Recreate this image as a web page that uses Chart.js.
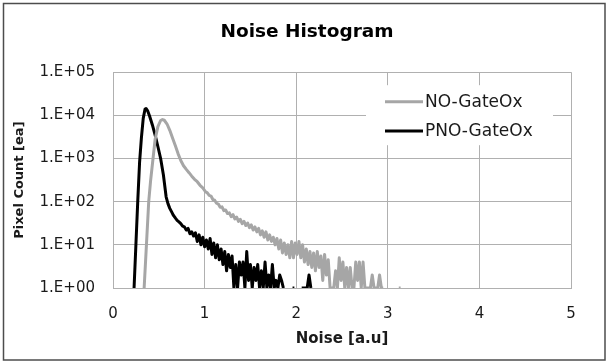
<!DOCTYPE html>
<html><head><meta charset="utf-8">
<script src="https://cdn.jsdelivr.net/npm/chart.js@4.4.1/dist/chart.umd.min.js"></script>
<style>html,body{margin:0;padding:0;background:#fff;}#wrap{width:609px;height:363px;}</style>
</head><body><div id="wrap"><canvas id="c" width="609" height="363"></canvas></div>
<script>
const chartTitle = 'Noise Histogram';
const xAxisTitle = 'Noise [a.u]';
const yAxisTitle = 'Pixel Count [ea]';
const seriesNames = ['NO-GateOx', 'PNO-GateOx'];
const seriesColors = ['#a6a6a6', '#000000'];
const xTickValues = [0, 1, 2, 3, 4, 5];
const yTickValues = [1, 10, 100, 1000, 10000, 100000];
const yTickLabels = ['1.E+00', '1.E+01', '1.E+02', '1.E+03', '1.E+04', '1.E+05'];

// NO-GateOx (gray)
const noX = [0.34,0.365,0.39,0.41,0.437,0.46,0.49,0.52,0.54,0.56,0.59,0.62,0.65,0.68,0.71,0.74,0.77,0.80,0.83,0.86,0.89,0.92,0.95,0.98,1.01,1.03,1.05,1.07,1.09,1.11,1.13,1.15,1.17,1.19,1.21,1.23,1.25,1.27,1.29,1.31,1.33,1.35,1.37,1.39,1.41,1.43,1.45,1.47,1.49,1.51,1.53,1.55,1.57,1.59,1.61,1.63,1.65,1.67,1.69,1.71,1.73,1.75,1.77,1.79,1.81,1.83,1.85,1.87,1.89,1.91,1.93,1.95,1.97,1.99,2.01,2.03,2.05,2.07,2.09,2.11,2.13,2.15,2.17,2.19,2.21,2.23,2.25,2.27,2.29,2.31,2.33,2.35,2.37,2.39,2.41,2.43,2.45,2.47,2.49,2.51,2.53,2.55,2.57,2.59,2.61,2.63,2.65,2.67,2.69,2.71,2.73,2.75,2.77,2.79,2.81,2.83,2.85,2.87,2.89,2.91,2.93,2.95,2.97,3.12,3.14];
const noY = [1,10,100,300,1000,2800,5500,7600,8000,7700,6300,4500,3000,2000,1300,900,680,560,470,390,330,290,240,210,170,160,140,135,112,108,92,88,74,76,62,64,53,55,45,50,40,44,35,39,31,35,28,32,25,29,22,26,20,24,17,21,15,20,13,17,12,15,10,14,8,13,6.5,11,6,10,5,12,5,11,6,12,5,10,4,8,3.5,7,3,6.5,2.5,7,3,5.5,1.5,6,2,4.5,1,1,1,2.5,1,5,1.5,4,1,3,1,3,1,1,4,1.5,4,1,4,1,1,1,1,2,1,1,1,2,1,1,null,1,1];

// PNO-GateOx (black)
const pnoX = [0.23,0.25,0.27,0.29,0.31,0.33,0.35,0.36,0.38,0.40,0.43,0.46,0.49,0.52,0.55,0.58,0.60,0.62,0.64,0.66,0.68,0.70,0.72,0.74,0.76,0.78,0.80,0.82,0.84,0.86,0.88,0.90,0.92,0.94,0.96,0.98,1.00,1.02,1.04,1.06,1.08,1.10,1.12,1.14,1.16,1.18,1.20,1.22,1.24,1.26,1.28,1.30,1.32,1.34,1.36,1.38,1.40,1.42,1.44,1.46,1.48,1.50,1.52,1.54,1.56,1.58,1.60,1.62,1.64,1.66,1.68,1.70,1.72,1.74,1.76,1.78,1.80,1.82,1.84,1.86,1.88,1.96,1.98,2.01,2.06,2.08,2.10,2.12,2.14,2.16,2.18,2.40,2.42];
const pnoY = [1,10,100,800,3000,8500,14000,14500,12500,9500,6000,3500,1900,1000,420,130,90,70,58,48,42,37,34,31,27,26,22,24,18,20,16,19,12,17,10,15,9,13,8,14,6,11,5,10,4.5,8,3.5,7,2.5,6,3,5.5,1,3.5,1,4,2,4,1,7,1.5,3.5,1,3,1.5,3.5,1,2.5,1,4,1,2,1,3.5,1,1.5,1,2,1.5,1,null,1,1,null,1,1,1,1,2,1,null,1,1];

const toPoints = (xs, ys) => xs.map((x, i) => ({ x: x, y: ys[i] }));

Chart.defaults.font.family = 'DejaVu Sans';
Chart.defaults.color = '#1a1a1a';

const framePlugin = {
  id: 'frame',
  beforeDraw(chart) {
    const ctx = chart.ctx;
    ctx.save();
    ctx.fillStyle = '#ffffff';
    ctx.fillRect(0, 0, chart.width, chart.height);
    ctx.restore();
  },
  beforeDatasetsDraw(chart) {
    const ctx = chart.ctx, a = chart.chartArea;
    ctx.save();
    ctx.fillStyle = '#ffffff';
    ctx.fillRect(a.right - 205, a.top + 13, 187, 60);
    ctx.restore();
  },
  afterDraw(chart) {
    const ctx = chart.ctx, a = chart.chartArea;
    ctx.save();
    chart.data.datasets.forEach((ds, i) => {
      const y = a.top + 29.5 + i * 29.3;
      const x0 = a.right - 186;
      ctx.strokeStyle = ds.borderColor;
      ctx.lineWidth = 3;
      ctx.beginPath();
      ctx.moveTo(x0, y);
      ctx.lineTo(x0 + 38, y);
      ctx.stroke();
      ctx.fillStyle = '#1a1a1a';
      ctx.font = '17px "DejaVu Sans"';
      ctx.textBaseline = 'middle';
      ctx.textAlign = 'left';
      ctx.fillText(ds.label, x0 + 40, y + 1);
    });
    ctx.strokeStyle = '#4d4d4d';
    ctx.lineWidth = 1.5;
    ctx.strokeRect(3.5, 3.5, 601.5, 356.5);
    ctx.restore();
  }
};

new Chart(document.getElementById('c'), {
  type: 'line',
  data: {
    datasets: [
      { label: seriesNames[0], data: toPoints(noX, noY), borderColor: seriesColors[0], backgroundColor: seriesColors[0], borderWidth: 3, pointRadius: 0, tension: 0, clip: 0, borderJoinStyle: 'round' },
      { label: seriesNames[1], data: toPoints(pnoX, pnoY), borderColor: seriesColors[1], backgroundColor: seriesColors[1], borderWidth: 3, pointRadius: 0, tension: 0, clip: 0, borderJoinStyle: 'round' }
    ]
  },
  options: {
    responsive: false,
    animation: false,
    devicePixelRatio: 1,
    spanGaps: false,
    layout: { padding: { left: 5, right: 0, top: 0, bottom: 0 } },
    plugins: {
      legend: { display: false },
      tooltip: { enabled: false },
      title: { display: true, text: chartTitle, color: '#000', font: { size: 18.5, weight: 'bold' }, padding: { top: 21, bottom: 29 } }
    },
    scales: {
      x: {
        type: 'linear', min: 0, max: 5,
        afterBuildTicks: s => { s.ticks = xTickValues.map(v => ({ value: v })); },
        afterFit: s => { s.height = 75; },
        grid: { color: '#b0b0b0', lineWidth: 1, drawTicks: false },
        border: { color: '#b0b0b0' },
        ticks: { font: { size: 15 }, color: '#1a1a1a', padding: 17, maxRotation: 0, callback: v => String(v) },
        title: { display: true, text: xAxisTitle, color: '#1a1a1a', font: { size: 15, weight: 'bold' }, padding: { top: 0, bottom: 15 } }
      },
      y: {
        type: 'logarithmic', min: 1, max: 100000,
        afterBuildTicks: s => { s.ticks = yTickValues.map(v => ({ value: v })); },
        afterFit: s => { s.width = 108; },
        grid: { color: '#b0b0b0', lineWidth: 1, drawTicks: false },
        border: { color: '#b0b0b0' },
        ticks: { font: { size: 15 }, color: '#1a1a1a', padding: 18, callback: v => { const i = yTickValues.indexOf(v); return i >= 0 ? yTickLabels[i] : ''; } },
        title: { display: true, text: yAxisTitle, color: '#1a1a1a', font: { size: 13, weight: 'bold' }, padding: { top: 7, bottom: 0 } }
      },
      yRightSpace: {
        type: 'linear', position: 'right', min: 0, max: 1, display: true,
        afterFit: s => { s.width = 38; },
        grid: { display: false, drawOnChartArea: false },
        border: { display: false },
        ticks: { display: false },
        title: { display: false }
      }
    }
  },
  plugins: [framePlugin]
});
</script></body></html>
